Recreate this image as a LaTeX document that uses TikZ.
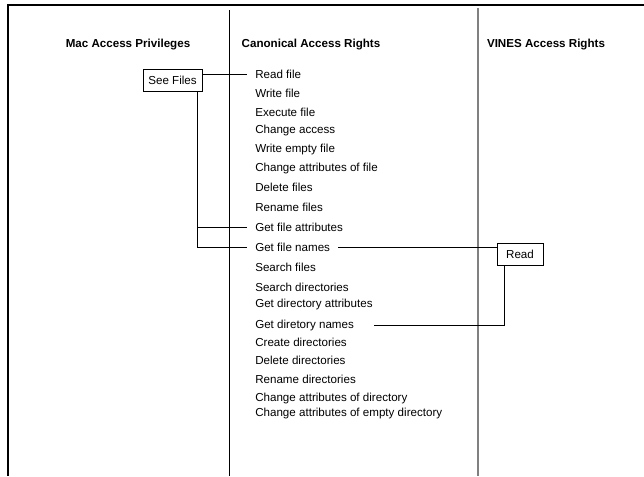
\documentclass[tikz,border=0pt]{standalone}
\usepackage{fontspec}
\setmainfont{Liberation Sans}
\usetikzlibrary{positioning}

\begin{document}
\begin{tikzpicture}[%
    x=0.75pt,
    y=-0.75pt,
    font=\fontsize{8.7}{10}\selectfont,
    item/.style={anchor=west,inner xsep=6pt,inner ysep=1pt},
    head/.style={font=\fontsize{8.7}{10}\selectfont\bfseries},
    box/.style={draw,line width=0.6pt,minimum height=16.5pt,inner xsep=4pt},
    link/.style={line width=0.6pt},
  ]
    \useasboundingbox (0,0) rectangle (644,476);
    \draw[line width=1.5pt] (644,5) -- (8,5) -- (8,476);
    \draw[line width=0.6pt] (229,10) -- (229,476);
    \draw[line width=0.8pt,gray] (478,8) -- (478,476);

    \node[head] (mac) at (128,45) {Mac Access Privileges};
    \node[head] (can) at (311,45) {Canonical Access Rights};
    \node[head] (vin) at (546,45) {VINES Access Rights};

    \node[box] (sf) at (172.5,80) {See Files};
    \node[box,minimum width=34.5pt] (rd) at (520,254) {Read};

    \node[item] (rf)  at (247,74)  {Read file};
    \node[item] (wf)  at (247,93)  {Write file};
    \node[item] (ef)  at (247,112) {Execute file};
    \node[item] (ca)  at (247,130) {Change access};
    \node[item] (wef) at (247,149) {Write empty file};
    \node[item] (caf) at (247,168) {Change attributes of file};
    \node[item] (df)  at (247,187) {Delete files};
    \node[item] (rnf) at (247,207) {Rename files};
    \node[item] (gfa) at (247,227) {Get file attributes};
    \node[item] (gfn) at (247,247) {Get file names};
    \node[item] (sfi) at (247,267) {Search files};
    \node[item] (sd)  at (247,287) {Search directories};
    \node[item] (gda) at (247,304) {Get directory attributes};
    \node[item] (gdn) at (247,325) {Get diretory names};
    \node[item] (cd)  at (247,342) {Create directories};
    \node[item] (dd)  at (247,360) {Delete directories};
    \node[item] (rnd) at (247,379) {Rename directories};
    \node[item] (cad) at (247,398) {Change attributes of directory};
    \node[item] (ced) at (247,413) {Change attributes of empty directory};

    \coordinate (sfdrop) at ([xshift=-3.75pt]sf.south east);
    \coordinate (rddrop) at ([xshift=6pt]rd.south west);

    \draw[link] (sf.east |- rf) -- (rf.west);
    \draw[link] (sfdrop) |- (gfn.west);
    \draw[link] (sfdrop |- gfa) -- (gfa.west);
    \draw[link] (gfn.east) -- (gfn.east -| rd.west);
    \draw[link] (rddrop) |- ([xshift=9pt]gdn.east);
  \end{tikzpicture}
\end{document}
